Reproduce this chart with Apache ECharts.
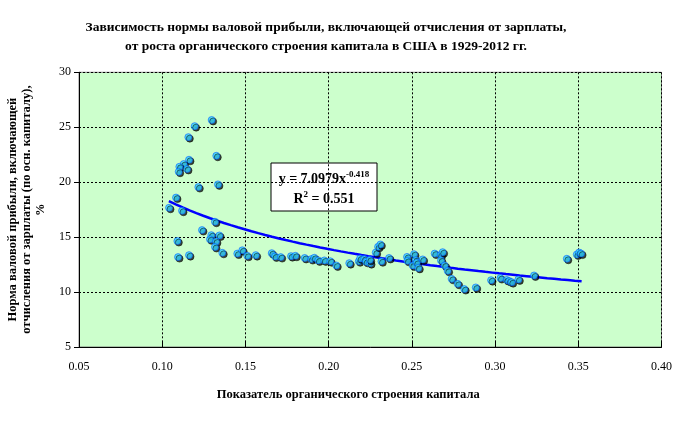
<!DOCTYPE html>
<html><head><meta charset="utf-8">
<script src="https://cdn.jsdelivr.net/npm/echarts@6/dist/echarts.min.js"></script>
<style>html,body{margin:0;padding:0;background:#fff}#c{width:679px;height:423px}</style>
</head><body><div id="c"></div>
<script>
var ratioX = [0.1297,0.1195,0.1157,0.1325,0.1161,0.1129,0.1103,0.1149,0.1099,0.1217,0.1335,0.1083,0.1041,0.1119,
 0.1317,0.1239,0.1295,0.1343,0.1287,0.1323,0.1091,0.1317,0.1361,0.1095,0.1161,0.1451,0.1481,0.1511,0.1562,0.1658,0.1678,
 0.1712,0.1774,0.1800,0.1856,0.1896,0.1914,0.1938,0.1974,0.2010,0.2046,0.2124,0.2181,0.2189,0.2214,0.2225,0.2249,0.2247,
 0.2283,0.2297,0.2311,0.2317,0.2363,0.2471,0.2473,0.2513,0.2523,0.2505,0.2529,0.2539,0.2565,0.2637,0.2673,0.2685,0.2675,
 0.2697,0.2715,0.2739,0.2775,0.2815,0.2884,0.2976,0.3032,0.3070,0.3086,0.3100,0.3140,0.3234,0.3431,0.3491,0.3505,0.3517];
var profitRate = [25.66,25.1,24.1,22.4,22.04,21.65,21.4,21.2,20.95,19.55,19.8,18.6,17.67,17.4,
 16.4,15.64,15.18,15.15,14.8,14.6,14.64,14.1,13.57,13.18,13.36,13.5,13.8,13.3,13.36,13.54,13.24,
 13.18,13.27,13.3,13.1,13.0,13.12,12.88,12.88,12.8,12.42,12.63,12.8,13.06,13.0,12.75,12.63,12.93,
 13.6,14.12,14.33,12.8,13.1,13.2,12.84,13.45,12.9,12.42,12.66,12.2,12.97,13.5,13.38,13.63,12.88,
 12.42,11.93,11.2,10.75,10.27,10.42,11.08,11.27,11.1,11.0,10.9,11.15,11.51,13.03,13.42,13.6,13.5];
var trendCoef = [7.0979, -0.418];
var trendRange = [0.104, 0.352];
var xTicks = [0.05,0.10,0.15,0.20,0.25,0.30,0.35,0.40];
var yTicks = [5,10,15,20,25,30];

var points = ratioX.map(function(x,i){return [x, profitRate[i]];});
var trend = [];
for (var k=0;k<=60;k++){
  var x = trendRange[0] + (trendRange[1]-trendRange[0])*k/60;
  trend.push([x, trendCoef[0]*Math.pow(x, trendCoef[1])]);
}
var serif = '"Liberation Serif","Times New Roman",serif';
var chart = echarts.init(document.getElementById('c'));
chart.setOption({
  animation:false,
  title:{text:'Зависимость нормы валовой прибыли, включающей отчисления от зарплаты,\nот роста органического строения капитала в США в 1929-2012 гг.',
    left:321, top:13, textAlign:'center',
    textStyle:{fontFamily:serif,fontWeight:'bold',fontSize:13.5,color:'#000',lineHeight:19}},
  grid:{left:79,right:17.5,top:72.3,bottom:76,outerBoundsMode:'none',containLabel:false,show:true,backgroundColor:'#CCFFCC',borderColor:'#808080',borderWidth:1},
  xAxis:{type:'value',min:0.05,max:0.40,interval:0.05,
    name:'Показатель органического строения капитала',nameLocation:'middle',nameGap:41,
    nameTextStyle:{fontFamily:serif,fontWeight:'bold',fontSize:12.5,color:'#000',padding:[0,44,0,0]},
    axisLine:{onZero:false,lineStyle:{color:'#000'}},axisTick:{inside:true,length:5,lineStyle:{color:'#000'}},
    axisLabel:{fontFamily:serif,fontSize:12,color:'#000',margin:14,formatter:function(v){return v.toFixed(2);}},
    splitLine:{show:true,lineStyle:{color:'#000',type:[2,2],width:1}}},
  yAxis:{type:'value',min:5,max:30,interval:5,
    name:'Норма валовой прибыли, включающей\nотчисления от зарплаты (по осн. капиталу),\n%',
    nameLocation:'middle',nameGap:26,nameRotate:90,
    nameTextStyle:{fontFamily:serif,fontWeight:'bold',fontSize:12.5,color:'#000',lineHeight:14},
    axisLine:{onZero:false,lineStyle:{color:'#000'}},axisTick:{length:5,lineStyle:{color:'#000'}},
    axisLabel:{fontFamily:serif,fontSize:12,color:'#000',margin:8},
    splitLine:{show:true,lineStyle:{color:'#000',type:[2,2],width:1}}},
  series:[
    {type:'line',data:trend,showSymbol:false,smooth:false,lineStyle:{color:'#0000FF',width:2.5},z:2},
    {type:'scatter',data:points,symbol:'circle',symbolSize:7,
     itemStyle:{color:'#33D6FF',borderColor:'#0050FF',borderWidth:0.7,shadowColor:'rgba(0,0,0,0.9)',shadowBlur:0,shadowOffsetX:1.5,shadowOffsetY:1.5},z:3}
  ],
  graphic:[{type:'group',left:270.5,top:162.5,children:[
    {type:'rect',shape:{x:0,y:0,width:106,height:48},style:{fill:'#fff',stroke:'#000',lineWidth:1}},
    {type:'text',style:{x:53,y:7,textAlign:'center',text:'{b|y = 7.0979x}{s|-0.418}',
      rich:{b:{fontFamily:serif,fontWeight:'bold',fontSize:14,color:'#000'},s:{fontFamily:serif,fontWeight:'bold',fontSize:9,color:'#000',padding:[0,0,9,0]}}}},
    {type:'text',style:{x:53,y:27,textAlign:'center',text:'{b|R}{s|2}{b| = 0.551}',
      rich:{b:{fontFamily:serif,fontWeight:'bold',fontSize:14,color:'#000'},s:{fontFamily:serif,fontWeight:'bold',fontSize:9,color:'#000',padding:[0,0,9,0]}}}}
  ]}]
});
</script></body></html>
